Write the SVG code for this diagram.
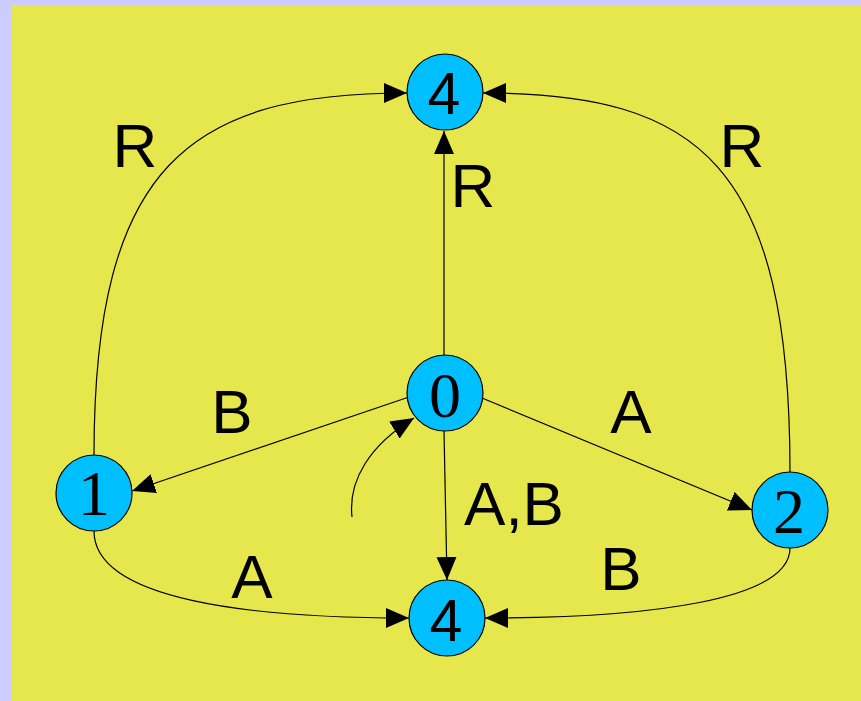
<svg xmlns="http://www.w3.org/2000/svg" width="861" height="701" viewBox="0 0 861 701">
<style>
.node{fill:#00bfff;stroke:#000;stroke-width:1.2}
.edge{fill:none;stroke:#000;stroke-width:1.2;marker-end:url(#ah)}
.lbl{font-family:"Liberation Sans",Arial,sans-serif;font-size:62px;fill:#000;text-anchor:middle}
.ns{font-family:"Liberation Sans",Arial,sans-serif;font-size:59px;fill:#000;text-anchor:middle}
.nr{font-family:"Liberation Serif","Times New Roman",serif;font-size:64px;fill:#000;text-anchor:middle}
</style>
<defs>
<marker id="ah" markerUnits="userSpaceOnUse" markerWidth="26" markerHeight="22" refX="23" refY="10" orient="auto">
<path d="M0,0 L23,10 L0,20 Z" fill="#000"/>
</marker>
</defs>
<rect x="0" y="0" width="861" height="701" fill="#ccccff"/>
<rect x="11" y="5" width="850" height="696" fill="#e6e64d"/>
<g id="connectors">
<path class="edge" d="M444,355 L444,131"/>
<path class="edge" d="M94,455 C94,165 190,93 407,93"/>
<path class="edge" d="M790,472 C790,165 700,93 483,93"/>
<path class="edge" d="M409,397 L132,491"/>
<path class="edge" d="M482,398 L752,510"/>
<path class="edge" d="M444,431 L447,580"/>
<path class="edge" d="M94,531 C94,600 250,618 409,618"/>
<path class="edge" d="M790,548 C790,600 650,618 485,618"/>
<path class="edge" d="M352,517 C348,480 370,445 414,418"/>
</g>
<g id="labels">
<text class="lbl" x="135" y="167">R</text>
<text class="lbl" x="473" y="207">R</text>
<text class="lbl" x="742" y="167">R</text>
<text class="lbl" x="232" y="433">B</text>
<text class="lbl" x="631" y="433">A</text>
<text class="lbl" x="514" y="525">A,B</text>
<text class="lbl" x="252" y="598">A</text>
<text class="lbl" x="621" y="590">B</text>
</g>
<g id="node-4top"><circle class="node" cx="445" cy="92" r="38"/><text class="ns" x="444" y="114">4</text></g>
<g id="node-0"><circle class="node" cx="445" cy="393" r="38"/><text class="nr" x="445" y="417">0</text></g>
<g id="node-1"><circle class="node" cx="94" cy="493" r="38"/><text class="nr" x="94" y="515">1</text></g>
<g id="node-2"><circle class="node" cx="790" cy="510" r="38"/><text class="nr" x="789" y="533">2</text></g>
<g id="node-4bottom"><circle class="node" cx="447" cy="618" r="38"/><text class="ns" x="446" y="641">4</text></g>
</svg>
